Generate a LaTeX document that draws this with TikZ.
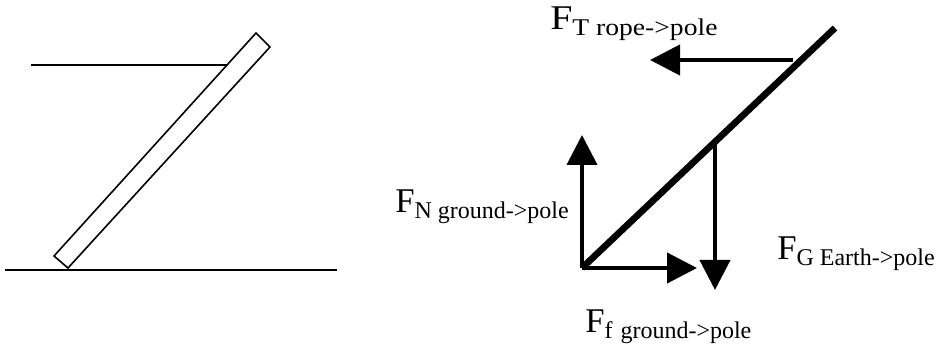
\documentclass[tikz,border=0pt]{standalone}
\usepackage{fontspec}
\setmainfont{Liberation Serif}
\usetikzlibrary{arrows.meta, calc, positioning}

\newcommand{\forcetext}[1]{{\fontsize{26}{28}\selectfont F}\raisebox{-4.5pt}{\fontsize{18}{20}\selectfont #1}}

\tikzset{
    forcearrow/.style={line width=3pt, -{Triangle[length=22.5pt, width=22.5pt]}},
    forcelabel/.style={anchor=base west, inner sep=0pt}
}

\begin{document}
\begin{tikzpicture}[x=0.75pt, y=-0.75pt]

    \useasboundingbox (0,0) rectangle (940,349);

    % Pole with rope
    \draw[line width=1.5pt] (5,270) -- (337,270);
    \draw[line width=1.2pt] (31,65) -- (227,65);
    \draw[line width=1.2pt, fill=white] (54,256) -- (256,33) -- (270,47) -- (68,268) -- cycle;

    % Free body diagram
    \coordinate (base) at (582,268);
    \coordinate (top) at (835,28);
    \draw[line width=5pt] (base) -- (top);

    \coordinate (rope) at (793,60);
    \coordinate (ntip) at (582,135);
    \coordinate (ftip) at (697,268);
    \coordinate (cg) at (715,143);
    \coordinate (gtip) at (715,290);
    \coordinate (ttip) at (650,60);

    \draw[forcearrow] (rope) -- (ttip);
    \draw[forcearrow] (base) -- (ntip);
    \draw[forcearrow] (base) -- (ftip);
    \draw[forcearrow] (cg) -- (gtip);

    % Force labels
    \node[forcelabel] (lT) at (550,30) {\scalebox{1.15}[1]{\forcetext{T rope->pole}}};
    \node[forcelabel] (lN) at (395,213) {\forcetext{N ground->pole}};
    \node[forcelabel] (lG) at (777,260) {\forcetext{G Earth->pole}};
    \node[forcelabel] (lf) at (585,333) {\forcetext{f\hspace{1.5pt} ground->pole}};

\end{tikzpicture}
\end{document}
